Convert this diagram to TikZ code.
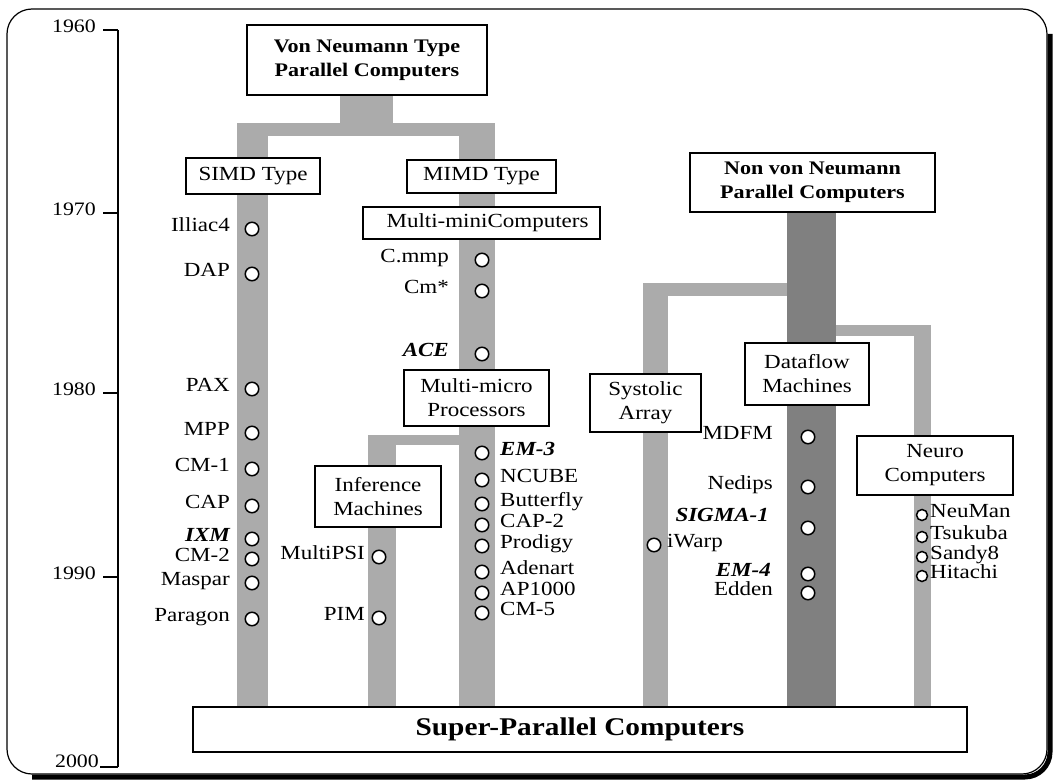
\documentclass[tikz,border=0pt]{standalone}
\usepackage{fontspec}
\setmainfont{Liberation Serif}[FakeStretch=1.15]
\begin{document}
\begin{tikzpicture}[x=1pt,y=-1pt,
  box/.style={draw, fill=white, line width=1.2pt, inner sep=0pt, align=center,
    font=\fontsize{20}{24}\selectfont},
  bbox/.style={box, font=\fontsize{19.2}{24}\selectfont\bfseries},
  dot/.style={circle, draw, fill=white, line width=1.5pt, minimum size=13.5pt, inner sep=0pt},
  sdot/.style={dot, minimum size=11pt},
  lbl/.style={inner sep=0pt, font=\fontsize{20}{22}\selectfont},
  blbl/.style={lbl, font=\fontsize{20}{22}\selectfont\bfseries\itshape},
  bar/.style={fill=black!33},
  dbar/.style={fill=black!50},
  yr/.style={inner sep=0pt, font=\fontsize{19}{21}\selectfont}]
\useasboundingbox (0,0) rectangle (1054,781);
% frame
\draw[line width=1.2pt, rounded corners=25pt] (7,9) rectangle (1047,774);
\draw[line width=5pt, rounded corners=25pt] (1050,34) -- (1050,777) -- (32,777);
% time axis
\draw[line width=1.2pt] (118,30) -- (118,767);
\foreach \yy/\lab/\nm in {30/1960/ya, 213/1970/yb, 393/1980/yc, 577/1990/yd}{
  \draw[line width=1.2pt] (103,\yy) -- (118,\yy);
  \node[yr, anchor=mid east] (\nm) at (96,\yy) {\lab};
}
\draw[line width=1.2pt] (100,767) -- (118,767);
\node[yr, anchor=base east] (ye) at (99,767) {2000};
% bars
\fill[bar] (340,95) rectangle (393,136);
\fill[bar] (237,123) rectangle (495,136);
\fill[bar] (237,123) rectangle (268,707);
\fill[bar] (459,123) rectangle (495,707);
\fill[bar] (368,435) rectangle (459,445);
\fill[bar] (368,435) rectangle (396,707);
\fill[dbar] (787,212) rectangle (836,707);
\fill[bar] (643,283) rectangle (787,296);
\fill[bar] (643,283) rectangle (668,707);
\fill[bar] (836,325) rectangle (931,336);
\fill[bar] (914,325) rectangle (931,707);
% boxes
\node[bbox, minimum width=240pt, minimum height=70pt] (vn) at (367,60) {Von Neumann Type\\Parallel Computers};
\node[box, minimum width=134pt, minimum height=36pt] (simd) at (253,176) {SIMD Type};
\node[box, minimum width=149pt, minimum height=33pt] (mimd) at (481.5,176.5) {MIMD Type};
\node[box, minimum width=237pt, minimum height=32pt] (mini) at (481.5,223) {\hspace*{12pt}Multi-miniComputers};
\node[box, minimum width=145pt, minimum height=56pt] (micro) at (476.5,398) {Multi-micro\\Processors};
\node[box, minimum width=126pt, minimum height=61pt] (inf) at (378,496.5) {Inference\\Machines};
\node[bbox, minimum width=245pt, minimum height=59pt] (nvn) at (812.5,182.5) {Non von Neumann\\Parallel Computers};
\node[box, minimum width=111pt, minimum height=58pt] (sys) at (645.5,403) {Systolic\\Array};
\node[box, minimum width=124pt, minimum height=62pt] (df) at (807,374) {Dataflow\\Machines};
\node[box, minimum width=156pt, minimum height=59pt] (neuro) at (935,465.5) {Neuro\\Computers};
\node[box, minimum width=774pt, minimum height=45pt, font=\fontsize{25.5}{28}\selectfont\bfseries] (super) at (580,729.5) {Super-Parallel Computers};
% SIMD machines
\foreach \yy/\lab/\nm in {229/Illiac4/s1, 274/DAP/s2, 389/PAX/s3, 433/MPP/s4, 469/CM-1/s5, 506/CAP/s6, 559/CM-2/s8, 583/Maspar/s9, 619/Paragon/s10}{
  \node[dot] (\nm) at (252,\yy) {};
  \node[lbl, anchor=mid east] (\nm l) at (230,\yy) {\lab};
}
\node[dot] (s7) at (252,539) {};
\node[blbl, anchor=mid east] (s7l) at (230,539) {IXM};
% MIMD machines
\foreach \yy/\lab/\nm in {260/C.mmp/m1, 291/Cm*/m2}{
  \node[dot] (\nm) at (482,\yy) {};
  \node[lbl, anchor=mid east] (\nm l) at (449,\yy) {\lab};
}
\node[dot] (m3) at (482,354) {};
\node[blbl, anchor=mid east] (m3l) at (449,354) {ACE};
\node[dot] (m4) at (482,453) {};
\node[blbl, anchor=mid west] (m4l) at (500,453) {EM-3};
\foreach \yy/\lab/\nm in {480/NCUBE/m5, 504/Butterfly/m6, 525/CAP-2/m7, 546/Prodigy/m8, 572/Adenart/m9, 593/AP1000/m10, 613/CM-5/m11}{
  \node[dot] (\nm) at (482,\yy) {};
  \node[lbl, anchor=mid west] (\nm l) at (500,\yy) {\lab};
}
% inference machines
\foreach \yy/\lab/\nm in {557/MultiPSI/i1, 618/PIM/i2}{
  \node[dot] (\nm) at (379,\yy) {};
  \node[lbl, anchor=mid east] (\nm l) at (365,\yy) {\lab};
}
% systolic
\node[dot] (a1) at (654,545) {};
\node[lbl, anchor=mid west] (a1l) at (667,545) {iWarp};
% dataflow
\foreach \yy/\lab/\nm in {437/MDFM/d1, 487/Nedips/d2, 593/Edden/d5}{
  \node[dot] (\nm) at (808,\yy) {};
  \node[lbl, anchor=mid east] (\nm l) at (773,\yy) {\lab};
}
\node[dot] (d3) at (808,528) {};
\node[blbl, anchor=mid east] (d3l) at (769,519) {SIGMA-1};
\node[dot] (d4) at (808,574) {};
\node[blbl, anchor=mid east] (d4l) at (771,574) {EM-4};
% neuro
\foreach \yy/\lab/\nm in {515/NeuMan/n1, 537/Tsukuba/n2, 557/Sandy8/n3, 576/Hitachi/n4}{
  \node[sdot] (\nm) at (922,\yy) {};
  \node[lbl, anchor=mid west] (\nm l) at (930,\yy) {\lab};
}
\end{tikzpicture}
\end{document}
